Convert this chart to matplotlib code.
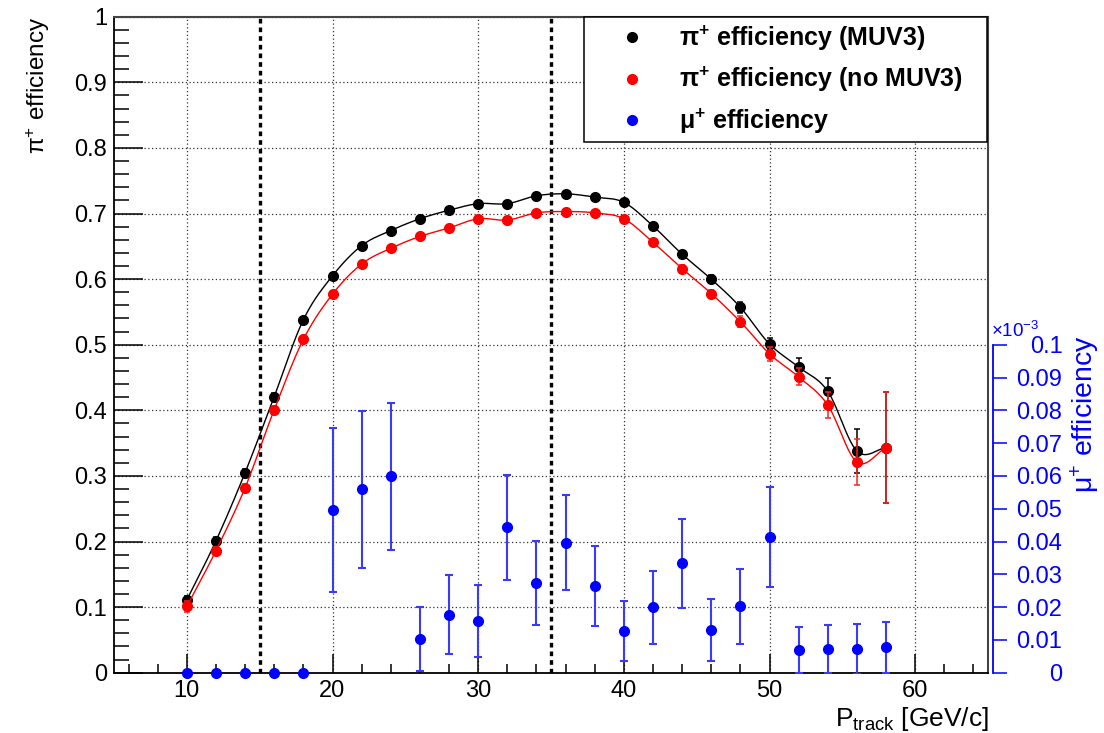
import numpy as np
import matplotlib
matplotlib.use("Agg")
import matplotlib.pyplot as plt
from matplotlib.lines import Line2D
from matplotlib.ticker import MultipleLocator, FixedLocator, FuncFormatter

plt.rcParams['font.family'] = ['Liberation Sans', 'DejaVu Sans']
plt.rcParams['mathtext.fontset'] = 'custom'
plt.rcParams['mathtext.rm'] = 'Liberation Sans'
plt.rcParams['mathtext.it'] = 'Liberation Sans:italic'
plt.rcParams['mathtext.bf'] = 'Liberation Sans:bold'
plt.rcParams['mathtext.default'] = 'regular'

# ---------------- data ----------------
p_track = [10, 12, 14, 16, 18, 20, 22, 24, 26, 28, 30, 32, 34, 36, 38, 40,
           42, 44, 46, 48, 50, 52, 54, 56, 58]
eff_pi_muv3 = [0.111, 0.201, 0.305, 0.421, 0.538, 0.605, 0.651, 0.674, 0.692,
               0.705, 0.715, 0.715, 0.727, 0.730, 0.725, 0.717, 0.681, 0.638,
               0.600, 0.557, 0.501, 0.466, 0.429, 0.338, 0.343]
err_pi_muv3 = [0.006, 0.006, 0.005, 0.005, 0.004, 0.004, 0.004, 0.004, 0.004,
               0.004, 0.004, 0.004, 0.004, 0.004, 0.004, 0.004, 0.005, 0.005,
               0.006, 0.008, 0.009, 0.014, 0.020, 0.034, 0.085]
eff_pi_nomuv3 = [0.101, 0.186, 0.282, 0.401, 0.508, 0.577, 0.623, 0.647, 0.665,
                 0.678, 0.692, 0.690, 0.701, 0.703, 0.701, 0.692, 0.656, 0.616,
                 0.578, 0.535, 0.486, 0.451, 0.408, 0.321, 0.343]
err_pi_nomuv3 = [0.008, 0.006, 0.006, 0.005, 0.004, 0.004, 0.004, 0.004, 0.004,
                 0.004, 0.004, 0.004, 0.004, 0.004, 0.004, 0.004, 0.005, 0.005,
                 0.006, 0.008, 0.011, 0.013, 0.020, 0.035, 0.085]
# mu+ efficiency in units of 1e-3
eff_mu = [0, 0, 0, 0, 0, 0.0496, 0.0559, 0.0599, 0.0103, 0.0177, 0.0158, 0.0444,
          0.0273, 0.0396, 0.0263, 0.0128, 0.0199, 0.0333, 0.0131, 0.0202, 0.0414,
          0.0068, 0.0072, 0.0072, 0.0077]
err_mu = [0, 0, 0, 0, 0, 0.025, 0.024, 0.0224, 0.0097, 0.012, 0.011, 0.016,
          0.0128, 0.0145, 0.0122, 0.0092, 0.011, 0.0137, 0.0095, 0.0113, 0.0153,
          0.007, 0.0072, 0.0075, 0.0077]
cut_lines = [15, 35]
legend_labels = [r'π$^{+}$ efficiency (MUV3)', r'π$^{+}$ efficiency (no MUV3)',
                 r'μ$^{+}$ efficiency']


def smooth_curve(x, y, n=24):
    """Catmull-Rom style smooth curve through the points (like ROOT 'C')."""
    x = np.asarray(x, float)
    y = np.asarray(y, float)
    m = np.empty_like(y)
    m[1:-1] = (y[2:] - y[:-2]) / 2.0
    m[0] = y[1] - y[0]
    m[-1] = y[-1] - y[-2]
    xs, ys = [], []
    t = np.linspace(0, 1, n, endpoint=False)
    h00 = 2 * t**3 - 3 * t**2 + 1
    h10 = t**3 - 2 * t**2 + t
    h01 = -2 * t**3 + 3 * t**2
    h11 = t**3 - t**2
    for i in range(len(x) - 1):
        xs.append(x[i] + t * (x[i + 1] - x[i]))
        ys.append(h00 * y[i] + h10 * m[i] + h01 * y[i + 1] + h11 * m[i + 1])
    xs.append([x[-1]])
    ys.append([y[-1]])
    return np.concatenate(xs), np.concatenate(ys)


W, H = 1104, 733
fig = plt.figure(figsize=(W / 100, H / 100), dpi=100)
L, R, T, B = 114, 988, 16.7, 672.7
ax = fig.add_axes([L / W, (H - B) / H, (R - L) / W, (B - T) / H])

ax.set_xlim(5, 65)
ax.set_ylim(0, 1)

# grid
ax.xaxis.set_major_locator(MultipleLocator(10))
ax.xaxis.set_minor_locator(MultipleLocator(2))
ax.yaxis.set_major_locator(MultipleLocator(0.1))
ax.yaxis.set_minor_locator(MultipleLocator(0.02))
ax.grid(True, which='major', linestyle=(0, (1, 2)), color='#333333', lw=0.9)
ax.set_axisbelow(True)

ax.yaxis.set_major_formatter(FuncFormatter(lambda v, p: f'{v:g}'))
ax.tick_params(axis='both', which='both', direction='in', top=False, right=False,
               labelsize=17, width=1.1, color='black')
ax.tick_params(axis='y', which='major', length=21, pad=5)
ax.tick_params(axis='y', which='minor', length=10.8)
ax.tick_params(axis='x', which='major', length=13.7, pad=5)
ax.tick_params(axis='x', which='minor', length=6.8)
for s in ['left', 'bottom']:
    ax.spines[s].set_color('black')
    ax.spines[s].set_linewidth(1.3)
for s in ['top', 'right']:
    ax.spines[s].set_color('#444444')
    ax.spines[s].set_linewidth(1.5)

# cut lines
for c in cut_lines:
    ax.axvline(c, color='black', lw=2.4, linestyle=(0, (1.4, 1.2)), zorder=2)

# pi+ efficiency with MUV3 (black)
ax.errorbar(p_track, eff_pi_muv3, yerr=err_pi_muv3, fmt='none', ecolor='black',
            elinewidth=1.1, capsize=2.5, capthick=1.1, zorder=3)
sx, sy = smooth_curve(p_track, eff_pi_muv3)
ax.plot(sx, sy, color='black', lw=1.0, zorder=3)
ax.plot(p_track, eff_pi_muv3, 'o', color='black', ms=7, zorder=4)

# pi+ efficiency without MUV3 (red)
ax.errorbar(p_track, eff_pi_nomuv3, yerr=err_pi_nomuv3, fmt='none', ecolor='#ff2020',
            elinewidth=1.1, capsize=2.5, capthick=1.1, zorder=5)
sx, sy = smooth_curve(p_track, eff_pi_nomuv3)
ax.plot(sx, sy, color='#ff0000', lw=1.0, zorder=5)
ax.plot(p_track, eff_pi_nomuv3, 'o', color='#ff0000', ms=7, zorder=6)

# mu+ efficiency on secondary axis
ax2 = ax.twinx()
ax2.set_ylim(0, 0.2)
ax2.set_xlim(5, 65)
mx = [p for p, e in zip(p_track, err_mu) if e > 0]
my = [v for v, e in zip(eff_mu, err_mu) if e > 0]
me = [e for e in err_mu if e > 0]
ax2.errorbar(mx, my, yerr=me, fmt='none', ecolor='#3a3aff', elinewidth=1.5,
             capsize=3, capthick=1.5, zorder=3)
ax2.plot(p_track, eff_mu, 'o', color='#0000ff', ms=7, clip_on=False, zorder=4)

for s in ['left', 'top', 'bottom']:
    ax2.spines[s].set_visible(False)
ax2.spines['right'].set_position(('outward', 3.6))
ax2.spines['right'].set_bounds(0, 0.1)
ax2.spines['right'].set_color('#0000ff')
ax2.spines['right'].set_linewidth(1.3)
mu_ticks = [round(0.01 * i, 2) for i in range(11)]
ax2.yaxis.set_major_locator(FixedLocator(mu_ticks))
ax2.yaxis.set_major_formatter(FuncFormatter(lambda v, p: f'{v:g}'))
ax2.tick_params(axis='y', direction='out', length=10, width=1.1, colors='#0000ff',
                labelsize=17, pad=40)
for lab in ax2.get_yticklabels():
    lab.set_horizontalalignment('right')
fig.text(991 / W, 1 - 337 / H, r'×10$^{-3}$', color='#0000ff', fontsize=13.5,
         ha='left', va='baseline')

# axis titles
fig.text(38 / W, 1 - 17 / H, r'π$^{+}$ efficiency', rotation=90, ha='center',
         va='top', fontsize=17.5)
fig.text(1085 / W, 1 - 335 / H, r'μ$^{+}$ efficiency', rotation=90, ha='center',
         va='top', fontsize=20.5, color='#0000ff')
fig.text(989 / W, 1 - 726 / H, r'P$_{track}$ [GeV/c]', ha='right', va='baseline',
         fontsize=19)

# legend
handles = [Line2D([], [], marker='o', ls='none', color=c, ms=7)
           for c in ['black', '#ff0000', '#0000ff']]
leg = ax2.legend(handles, legend_labels, loc='upper left', mode='expand',
                 bbox_to_anchor=(584 / W, 1 - 137 / H, 403 / W, 120 / H),
                 bbox_transform=fig.transFigure, borderaxespad=0,
                 prop={'weight': 'bold', 'size': 18}, frameon=True, fancybox=False,
                 edgecolor='black', framealpha=1, borderpad=0.25, labelspacing=0.5,
                 handlelength=3.36, handletextpad=0.2)
leg.get_frame().set_linewidth(1.1)

fig.savefig('out.png', dpi=100)
